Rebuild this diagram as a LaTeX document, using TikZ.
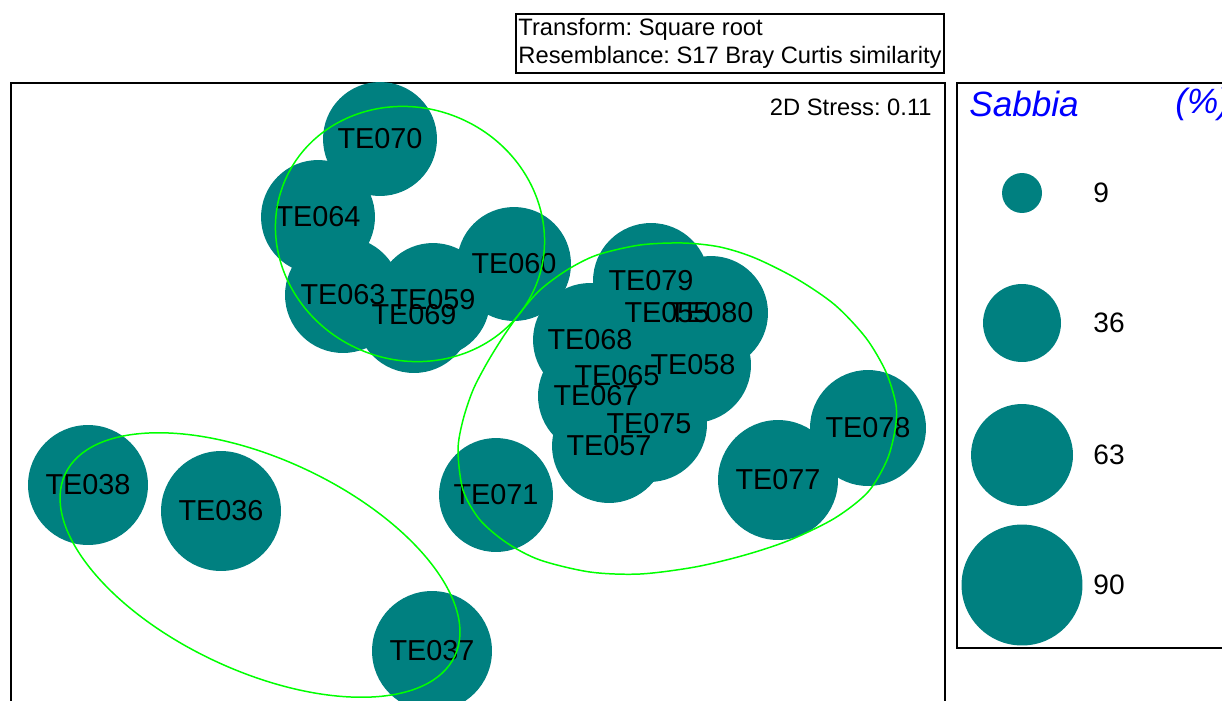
\documentclass[tikz,border=0pt]{standalone}
\usepackage{fontspec}
\setmainfont{Liberation Sans}
\usepackage{xcolor}
\definecolor{mdsteal}{HTML}{008080}
\definecolor{mdsgreen}{HTML}{00FF00}
\definecolor{mdsblue}{HTML}{0000FF}

\begin{document}
\begin{tikzpicture}[
  x=0.02cm, y=-0.02cm,
  bubble/.style={circle, fill=mdsteal, inner sep=0pt, minimum size=#1*0.04cm},
  lbl/.style={font=\fontsize{16.4}{18}\selectfont, inner sep=0pt},
  num/.style={font=\fontsize{16}{18}\selectfont, inner sep=0pt, anchor=west},
  contour/.style={draw=mdsgreen, line width=0.85pt},
  frame/.style={draw=black, line width=1.1pt},
  note/.style={font=\fontsize{13.5}{16}\selectfont\frenchspacing, inner sep=0pt}
]
  \clip (0,0) rectangle (1222,700);

  % frames
  \draw[frame] (11,83) rectangle (945,720);
  \draw[frame] (957,83) rectangle (1240,648);
  \node[frame, note, anchor=north west, align=left, inner xsep=0.05cm,
        minimum height=1.18cm] (title) at (515,13)
        {Transform: Square root\\Resemblance: S17 Bray Curtis similarity};
  \node[note, anchor=east] (stress) at (932,107) {2D Stress: 0.11};

  % samples
  \node[bubble=57] (te070) at (380,139) {};
  \node[bubble=57] (te064) at (318,217) {};
  \node[bubble=58] (te063) at (343,295) {};
  \node[bubble=57] (te059) at (433,300) {};
  \node[bubble=58] (te069) at (414,315) {};
  \node[bubble=57] (te060) at (514,264) {};
  \node[bubble=58] (te079) at (651,281) {};
  \node[bubble=57] (te055) at (664,313) {};
  \node[bubble=57] (te080) at (711,313) {};
  \node[bubble=57] (te068) at (590,340) {};
  \node[bubble=58] (te058) at (693,365) {};
  \node[bubble=57] (te065) at (617,376) {};
  \node[bubble=58] (te067) at (596,396) {};
  \node[bubble=58] (te075) at (649,424) {};
  \node[bubble=57] (te057) at (609,446) {};
  \node[bubble=60] (te077) at (778,480) {};
  \node[bubble=58] (te078) at (868,428) {};
  \node[bubble=57] (te071) at (496,495) {};
  \node[bubble=60] (te038) at (88,485) {};
  \node[bubble=60] (te036) at (221,511) {};
  \node[bubble=60] (te037) at (432,651) {};

  \node[lbl] (l070) at (te070) {TE070};
  \node[lbl] (l064) at (te064) {TE064};
  \node[lbl] (l063) at (te063) {TE063};
  \node[lbl] (l059) at (te059) {TE059};
  \node[lbl] (l069) at (te069) {TE069};
  \node[lbl] (l060) at (te060) {TE060};
  \node[lbl] (l079) at (te079) {TE079};
  \node[lbl] (l055) at (667,313) {TE055};
  \node[lbl] (l080) at (te080) {TE080};
  \node[lbl] (l068) at (te068) {TE068};
  \node[lbl] (l058) at (te058) {TE058};
  \node[lbl] (l065) at (te065) {TE065};
  \node[lbl] (l067) at (te067) {TE067};
  \node[lbl] (l075) at (te075) {TE075};
  \node[lbl] (l057) at (te057) {TE057};
  \node[lbl] (l077) at (te077) {TE077};
  \node[lbl] (l078) at (te078) {TE078};
  \node[lbl] (l071) at (te071) {TE071};
  \node[lbl] (l038) at (te038) {TE038};
  \node[lbl] (l036) at (te036) {TE036};
  \node[lbl] (l037) at (te037) {TE037};

  % similarity contours
  \draw[contour, rotate around={-23:(410,234)}] (410,234)
    ellipse [x radius=136, y radius=126];
  \draw[contour] plot[smooth cycle] coordinates {(458,450) (463,420) (473,390)
    (487,363) (503,337) (520,313) (540,290) (567,270) (597,255) (640,245)
    (683,243) (720,247) (755,258) (797,279) (835,305) (866,338) (886,372)
    (896,405) (895,430) (887,460) (868,492) (835,518) (790,540) (745,555)
    (695,567) (640,574) (590,572) (540,560) (507,543) (480,520) (463,490)};
  \draw[contour, rotate around={-25:(260,565)}] (260,565)
    ellipse [x radius=215, y radius=106];

  % legend
  \node[font=\fontsize{20}{24}\selectfont\itshape, text=mdsblue, inner sep=0pt,
        anchor=west] (var) at (969,104) {Sabbia};
  \node[font=\fontsize{20}{24}\selectfont\itshape, text=mdsblue, inner sep=0pt,
        anchor=west] (unit) at (1175,104) {(\%)};
  \node[bubble=20] (k9)  at (1022,193) {};
  \node[bubble=39] (k36) at (1022,323) {};
  \node[bubble=51] (k63) at (1022,455) {};
  \node[bubble=60.5] (k90) at (1022,585) {};
  \node[num] (n9)  at (1093,193) {9};
  \node[num] (n36) at (1093,323) {36};
  \node[num] (n63) at (1093,455) {63};
  \node[num] (n90) at (1093,585) {90};
\end{tikzpicture}
\end{document}
